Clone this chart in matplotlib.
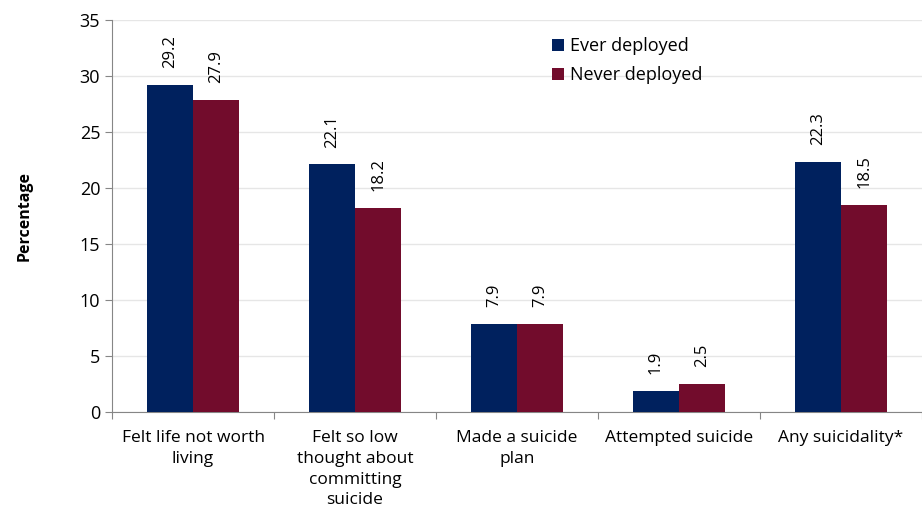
import matplotlib
matplotlib.use("Agg")
import matplotlib.pyplot as plt
import numpy as np

categories = ["Felt life not worth\nliving", "Felt so low\nthought about\ncommitting\nsuicide",
              "Made a suicide\nplan", "Attempted suicide", "Any suicidality*"]
ever = [29.2, 22.1, 7.9, 1.9, 22.3]
never = [27.9, 18.2, 7.9, 2.5, 18.5]
series_names = ["Ever deployed", "Never deployed"]
yticks = [0, 5, 10, 15, 20, 25, 30, 35]

plt.rcParams['font.family'] = ['Open Sans', 'DejaVu Sans']

fig = plt.figure(figsize=(9.22, 5.24), dpi=100)
ax = fig.add_axes([112/922, 1-412/524, 1-112/922, (412-20)/524])

x = np.arange(len(categories))
w = 0.287
c1, c2 = "#00215E", "#720C2C"
b1 = ax.bar(x - w/2, ever, w, color=c1, label=series_names[0], zorder=3)
b2 = ax.bar(x + w/2, never, w, color=c2, label=series_names[1], zorder=3)

for bars, vals in ((b1, ever), (b2, never)):
    for r, v in zip(bars, vals):
        ax.text(r.get_x() + r.get_width()/2, v + 1.5, f"{v:.1f}", rotation=90,
                ha="center", va="bottom", fontsize=12)

ax.set_xlim(-0.5, 4.453)
ax.set_ylim(0, 35)
ax.set_yticks(yticks)
ax.set_xticks(np.arange(-0.5, 5, 1), minor=False)
ax.set_xticklabels([])
ax.set_xticks(x, minor=True)
ax.set_xticklabels(categories, minor=True, fontsize=12.5, va="top", linespacing=1.4)
ax.tick_params(axis="x", which="minor", length=0, pad=13)
ax.tick_params(axis="x", which="major", length=5, color="#868686", direction="out")
ax.tick_params(axis="y", length=5, color="#868686", labelsize=13)
ax.yaxis.grid(True, color="#E6E6E6", linewidth=1, zorder=0)
for s in ("top", "right"):
    ax.spines[s].set_visible(False)
for s in ("left", "bottom"):
    ax.spines[s].set_color("#868686")
ax.set_ylabel("Percentage", fontsize=11.5, fontweight="bold", labelpad=34)

ax.legend(loc="upper left", bbox_to_anchor=(0.523, 0.997), frameon=False, fontsize=13,
          handlelength=0.65, handleheight=0.65, handletextpad=0.35, labelspacing=0.6)

fig.savefig("out.png", dpi=100)
